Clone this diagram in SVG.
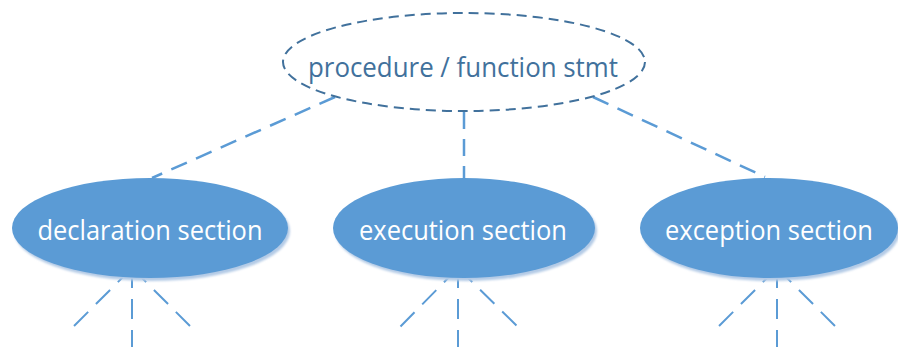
<svg xmlns="http://www.w3.org/2000/svg" width="898" height="347" viewBox="0 0 898 347">
  <style>
    .link { fill: none; stroke: #5B9BD5; stroke-width: 2.5; stroke-dasharray: 17 10; }
    .leaf { fill: none; stroke: #5B9BD5; stroke-width: 2; stroke-dasharray: 20 11; }
    .root { fill: #ffffff; stroke: #41719C; stroke-width: 2; stroke-dasharray: 10 6; }
    .sec { fill: #5B9BD5; }
    .shadow { fill: #b4cbe6; }
    .label { font-family: "Open Sans", "Liberation Sans", sans-serif; font-size: 28px; text-anchor: middle; }
    .root-label { fill: #41719C; }
    .sec-label { fill: #ffffff; }
  </style>
  <defs>
    <filter id="soft" x="-10%" y="-10%" width="120%" height="130%">
      <feGaussianBlur stdDeviation="1.2"/>
    </filter>
  </defs>
  <rect width="898" height="347" fill="#ffffff"/>

  <!-- connectors -->
  <g id="connectors">
    <line class="link" x1="335" y1="97" x2="152" y2="178"/>
    <line class="link" x1="464" y1="112" x2="464" y2="178"/>
    <line class="link" x1="593" y1="97" x2="765" y2="177"/>

    <line class="leaf" x1="132" y1="268" x2="68" y2="332"/>
    <line class="leaf" x1="132" y1="268" x2="132" y2="347"/>
    <line class="leaf" x1="132" y1="268" x2="192" y2="328"/>

    <line class="leaf" x1="458" y1="268" x2="396" y2="331"/>
    <line class="leaf" x1="458" y1="268" x2="458" y2="347"/>
    <line class="leaf" x1="458" y1="268" x2="519" y2="328"/>

    <line class="leaf" x1="777" y1="268" x2="714" y2="331"/>
    <line class="leaf" x1="777" y1="268" x2="777" y2="347"/>
    <line class="leaf" x1="777" y1="268" x2="837" y2="328"/>
  </g>

  <g id="root">
    <ellipse class="root" cx="464" cy="62" rx="181" ry="49"/>
    <text class="label root-label" x="463" y="77" textLength="310" lengthAdjust="spacingAndGlyphs">procedure / function stmt</text>
  </g>

  <g id="declaration">
    <ellipse class="shadow" cx="152" cy="231" rx="138" ry="50" filter="url(#soft)"/>
    <ellipse class="sec" cx="150" cy="228" rx="138" ry="50"/>
    <text class="label sec-label" x="150" y="240" textLength="225" lengthAdjust="spacingAndGlyphs">declaration section</text>
  </g>

  <g id="execution">
    <ellipse class="shadow" cx="466" cy="231" rx="131" ry="50" filter="url(#soft)"/>
    <ellipse class="sec" cx="464" cy="228" rx="131" ry="50"/>
    <text class="label sec-label" x="463" y="240" textLength="208" lengthAdjust="spacingAndGlyphs">execution section</text>
  </g>

  <g id="exception">
    <ellipse class="shadow" cx="771" cy="231" rx="129" ry="50" filter="url(#soft)"/>
    <ellipse class="sec" cx="769" cy="228" rx="129" ry="50"/>
    <text class="label sec-label" x="769" y="240" textLength="208" lengthAdjust="spacingAndGlyphs">exception section</text>
  </g>
</svg>
